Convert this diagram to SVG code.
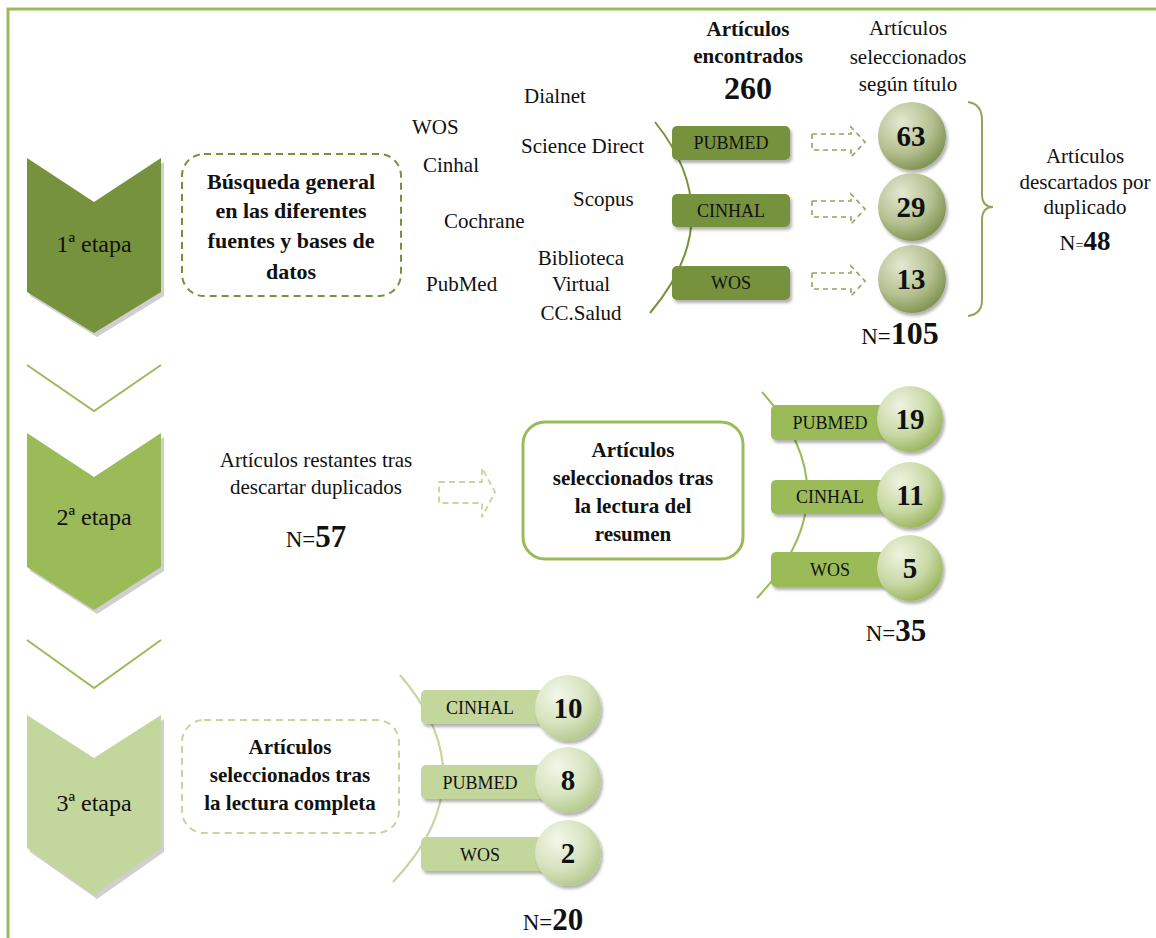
<svg xmlns="http://www.w3.org/2000/svg" width="1156" height="938" viewBox="0 0 1156 938">
<style>
text{font-family:"Liberation Serif","Times New Roman",serif;fill:#111;}
.t{font-size:21px;text-anchor:middle;}
.tl{font-size:21px;}
.b{font-size:21px;font-weight:bold;text-anchor:middle;}
.btn{font-size:18px;text-anchor:middle;}
.num{font-size:29px;font-weight:bold;text-anchor:middle;}
.et{font-size:24px;text-anchor:middle;}
.dk{fill:#76923c;}
.md{fill:#9bbb59;}
.lt{fill:#c3d69b;}
.shadow{fill:#cfcfcf;}
.arc{fill:none;stroke-width:2;}
</style>
<defs>
<radialGradient id="g1" cx="0.35" cy="0.3" r="0.75">
<stop offset="0" stop-color="#e3e8d2"/>
<stop offset="0.6" stop-color="#b4c08f"/>
<stop offset="1" stop-color="#7d9150"/>
</radialGradient>
<radialGradient id="g2" cx="0.35" cy="0.3" r="0.75">
<stop offset="0" stop-color="#eef3e0"/>
<stop offset="0.6" stop-color="#c8d8a4"/>
<stop offset="1" stop-color="#97b45a"/>
</radialGradient>
<radialGradient id="g3" cx="0.35" cy="0.3" r="0.75">
<stop offset="0" stop-color="#f3f7ea"/>
<stop offset="0.6" stop-color="#d6e2bd"/>
<stop offset="1" stop-color="#b3c88a"/>
</radialGradient>
<filter id="ds" x="-20%" y="-20%" width="150%" height="150%">
<feDropShadow dx="2" dy="3" stdDeviation="1.5" flood-color="#000" flood-opacity="0.3"/>
</filter>
</defs>

<rect x="8" y="9" width="1170" height="950" fill="none" stroke="#9bbb59" stroke-width="3"/>

<g id="connectors">
<polyline points="27,365 94,411 161,365" fill="none" stroke="#9bbb59" stroke-width="2"/>
<polyline points="27,640 94,688 161,640" fill="none" stroke="#9bbb59" stroke-width="2"/>
<path class="arc" stroke="#76923c" d="M655,122 Q731,217 650,313"/>
<path class="arc" stroke="#9bbb59" d="M762,392 Q855,495 757,598"/>
<path class="arc" stroke="#c3d69b" d="M400,675 Q490,780 393,882"/>
<g fill="none" stroke="#8fa65a" stroke-width="1.6" stroke-dasharray="5,4">
<path d="M812,134 H851 V127 L865,142 L851,157 V150 H812 Z"/>
<path d="M812,201 H851 V194 L865,209 L851,224 V217 H812 Z"/>
<path d="M812,273 H851 V266 L865,281 L851,296 V289 H812 Z"/>
</g>
<path d="M439,482 H482 V468 L495,492 L482,517 V503 H439 Z" fill="none" stroke="#c3d69b" stroke-width="1.8" stroke-dasharray="6,4"/>
<path d="M968,102 Q982,104 982,120 V194 Q982,207 993,207 Q982,207 982,220 V300 Q982,314 968,316" fill="none" stroke="#8fa65a" stroke-width="2"/>
</g>

<g id="stage1">
<polygon class="shadow" points="30,162 97,206 164,162 164,296 97,337 30,296"/>
<polygon class="dk" points="27,158 94,202 161,158 161,292 94,333 27,292"/>
<text class="et" x="94" y="252">1ª etapa</text>
</g>
<g id="stage2">
<polygon class="shadow" points="30,437 97,481 164,437 164,571 97,614 30,571"/>
<polygon class="md" points="27,433 94,477 161,433 161,567 94,610 27,567"/>
<text class="et" x="94" y="525">2ª etapa</text>
</g>
<g id="stage3">
<polygon class="shadow" points="30,719 97,762 164,719 164,852 97,899 30,852"/>
<polygon class="lt" points="27,715 94,758 161,715 161,848 94,895 27,848"/>
<text class="et" x="94" y="811">3ª etapa</text>
</g>

<g id="box-busqueda">
<rect x="182" y="154" width="219" height="142" rx="22" fill="#fff" stroke="#76923c" stroke-width="2" stroke-dasharray="7,5"/>
<text class="b" x="291" y="189" style="font-size:22px">Búsqueda general</text>
<text class="b" x="291" y="218" style="font-size:22px">en las diferentes</text>
<text class="b" x="291" y="248" style="font-size:22px">fuentes y bases de</text>
<text class="b" x="291" y="279" style="font-size:22px">datos</text>
</g>

<g id="sources">
<text class="tl" x="524" y="103">Dialnet</text>
<text class="tl" x="412" y="134">WOS</text>
<text class="tl" x="521" y="153">Science Direct</text>
<text class="tl" x="423" y="172">Cinhal</text>
<text class="tl" x="573" y="206">Scopus</text>
<text class="tl" x="444" y="228">Cochrane</text>
<text class="t" x="581" y="265">Biblioteca</text>
<text class="tl" x="426" y="291">PubMed</text>
<text class="t" x="581" y="291">Virtual</text>
<text class="t" x="581" y="320">CC.Salud</text>
</g>

<g id="header-encontrados">
<text class="b" x="748" y="36">Artículos</text>
<text class="b" x="748" y="63">encontrados</text>
<text class="b" x="748" y="99" style="font-size:32px">260</text>
</g>
<g id="header-seleccionados">
<text class="t" x="908" y="35">Artículos</text>
<text class="t" x="908" y="64">seleccionados</text>
<text class="t" x="908" y="91">según título</text>
</g>

<g id="s1-pubmed">
<rect x="672" y="126" width="118" height="34" rx="5" class="dk" filter="url(#ds)"/>
<text class="btn" x="731" y="149">PUBMED</text>
</g>
<g id="s1-cinhal">
<rect x="672" y="194" width="118" height="33" rx="5" class="dk" filter="url(#ds)"/>
<text class="btn" x="731" y="217">CINHAL</text>
</g>
<g id="s1-wos">
<rect x="672" y="266" width="118" height="34" rx="5" class="dk" filter="url(#ds)"/>
<text class="btn" x="731" y="289">WOS</text>
</g>

<g id="c63"><circle cx="912" cy="136" r="34" fill="url(#g1)" filter="url(#ds)"/><text class="num" x="911" y="146">63</text></g>
<g id="c29"><circle cx="912" cy="207" r="34" fill="url(#g1)" filter="url(#ds)"/><text class="num" x="911" y="217">29</text></g>
<g id="c13"><circle cx="912" cy="279" r="34" fill="url(#g1)" filter="url(#ds)"/><text class="num" x="911" y="289">13</text></g>

<g id="n105"><text x="900" y="344" text-anchor="middle"><tspan style="font-size:23px">N=</tspan><tspan style="font-size:32px;font-weight:bold">105</tspan></text></g>

<g id="descartados">
<text class="t" x="1085" y="163">Artículos</text>
<text class="t" x="1085" y="189">descartados por</text>
<text class="t" x="1085" y="214">duplicado</text>
<text x="1085" y="250" text-anchor="middle"><tspan style="font-size:22px">N</tspan><tspan style="font-size:14px">=</tspan><tspan style="font-size:27px;font-weight:bold">48</tspan></text>
</g>

<g id="restantes">
<text class="t" x="316" y="467">Artículos restantes tras</text>
<text class="t" x="316" y="494">descartar duplicados</text>
<text x="316" y="547" text-anchor="middle"><tspan style="font-size:23px">N=</tspan><tspan style="font-size:31px;font-weight:bold">57</tspan></text>
</g>

<g id="box-resumen">
<rect x="523" y="422" width="220" height="137" rx="22" fill="#fff" stroke="#9bbb59" stroke-width="3"/>
<text class="b" x="633" y="457">Artículos</text>
<text class="b" x="633" y="485">seleccionados tras</text>
<text class="b" x="633" y="513">la lectura del</text>
<text class="b" x="633" y="541">resumen</text>
</g>

<g id="s2-pubmed">
<rect x="771" y="405" width="125" height="35" rx="5" class="md" filter="url(#ds)"/>
<text class="btn" x="830" y="429">PUBMED</text>
<circle cx="910" cy="419" r="33" fill="url(#g2)" filter="url(#ds)"/>
<text class="num" x="910" y="429">19</text>
</g>
<g id="s2-cinhal">
<rect x="771" y="480" width="125" height="34" rx="5" class="md" filter="url(#ds)"/>
<text class="btn" x="830" y="503">CINHAL</text>
<circle cx="910" cy="495" r="33" fill="url(#g2)" filter="url(#ds)"/>
<text class="num" x="910" y="505">11</text>
</g>
<g id="s2-wos">
<rect x="771" y="552" width="125" height="35" rx="5" class="md" filter="url(#ds)"/>
<text class="btn" x="830" y="576">WOS</text>
<circle cx="910" cy="568" r="33" fill="url(#g2)" filter="url(#ds)"/>
<text class="num" x="910" y="578">5</text>
</g>
<g id="n35"><text x="896" y="641" text-anchor="middle"><tspan style="font-size:23px">N=</tspan><tspan style="font-size:31px;font-weight:bold">35</tspan></text></g>

<g id="box-completa">
<rect x="182" y="720" width="217" height="113" rx="22" fill="#fff" stroke="#c3d69b" stroke-width="2" stroke-dasharray="7,5"/>
<text class="b" x="290" y="754">Artículos</text>
<text class="b" x="290" y="782">seleccionados tras</text>
<text class="b" x="290" y="810">la lectura completa</text>
</g>

<g id="s3-cinhal">
<rect x="421" y="690" width="125" height="34" rx="5" class="lt" filter="url(#ds)"/>
<text class="btn" x="480" y="714">CINHAL</text>
<circle cx="568" cy="708" r="33" fill="url(#g3)" filter="url(#ds)"/>
<text class="num" x="568" y="718">10</text>
</g>
<g id="s3-pubmed">
<rect x="421" y="765" width="125" height="34" rx="5" class="lt" filter="url(#ds)"/>
<text class="btn" x="480" y="789">PUBMED</text>
<circle cx="568" cy="780" r="33" fill="url(#g3)" filter="url(#ds)"/>
<text class="num" x="568" y="790">8</text>
</g>
<g id="s3-wos">
<rect x="421" y="837" width="125" height="34" rx="5" class="lt" filter="url(#ds)"/>
<text class="btn" x="480" y="861">WOS</text>
<circle cx="568" cy="853" r="33" fill="url(#g3)" filter="url(#ds)"/>
<text class="num" x="568" y="863">2</text>
</g>
<g id="n20"><text x="553" y="930" text-anchor="middle"><tspan style="font-size:23px">N=</tspan><tspan style="font-size:31px;font-weight:bold">20</tspan></text></g>
</svg>
